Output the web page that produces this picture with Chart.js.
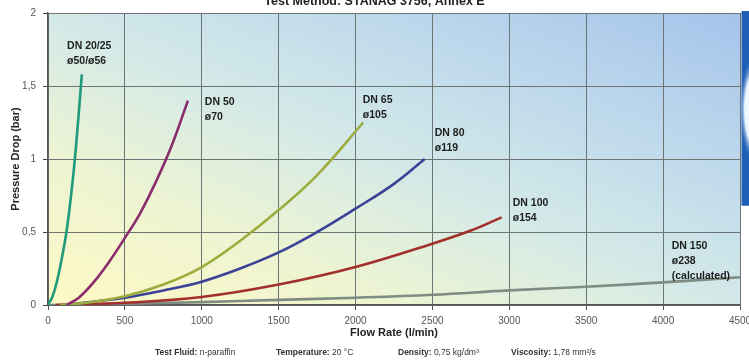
<!DOCTYPE html>
<html><head><meta charset="utf-8">
<script src="https://cdn.jsdelivr.net/npm/chart.js@4.4.1/dist/chart.umd.min.js"></script>
<style>
html,body{margin:0;padding:0;background:#fff;overflow:hidden;width:749px;height:360px;}
#wrap{position:absolute;left:0;top:-6px;width:749px;height:366px;}
</style></head><body>
<div id="wrap"><canvas id="c"></canvas></div>
<script>
// ---- data ----
const xTicks = [0, 500, 1000, 1500, 2000, 2500, 3000, 3500, 4000, 4500];
const yTicks = [0, 0.5, 1, 1.5, 2];
const seriesNames = ['DN 20/25', 'DN 50', 'DN 65', 'DN 80', 'DN 100', 'DN 150'];
const flowDN20 = [0, 30, 60, 90, 120, 150, 180, 220];
const dropDN20 = [0, 0.06, 0.17, 0.32, 0.50, 0.75, 1.06, 1.58];
const flowDN50 = [120, 200, 300, 400, 500, 600, 700, 800, 910];
const dropDN50 = [0, 0.05, 0.16, 0.30, 0.46, 0.63, 0.84, 1.08, 1.40];
const flowDN65 = [80, 250, 500, 750, 1000, 1250, 1500, 1750, 2050];
const dropDN65 = [0, 0.015, 0.06, 0.14, 0.26, 0.44, 0.65, 0.89, 1.25];
const flowDN80 = [100, 500, 750, 1000, 1250, 1500, 1750, 2000, 2250, 2450];
const dropDN80 = [0, 0.05, 0.10, 0.16, 0.25, 0.36, 0.50, 0.66, 0.83, 1.00];
const flowDN100 = [50, 500, 1000, 1500, 2000, 2500, 2750, 2950];
const dropDN100 = [0, 0.015, 0.055, 0.14, 0.26, 0.42, 0.51, 0.60];
const flowDN150 = [0, 500, 1000, 1500, 2000, 2500, 3000, 3500, 4000, 4500];
const dropDN150 = [0, 0.008, 0.02, 0.035, 0.05, 0.07, 0.10, 0.125, 0.155, 0.19];
const curveNotes = [
  ['DN 20/25', 'ø50/ø56'],
  ['DN 50', 'ø70'],
  ['DN 65', 'ø105'],
  ['DN 80', 'ø119'],
  ['DN 100', 'ø154'],
  ['DN 150', 'ø238', '(calculated)']
];
// anchor of each note in data units (flow, pressure)
const noteFlow = [124, 1020, 2047, 2515, 3022, 4056];
const noteDrop = [1.77, 1.39, 1.40, 1.18, 0.70, 0.40];
const titleText = 'Test Method: STANAG 3756, Annex E';
const xTitle = 'Flow Rate (l/min)';
const yTitle = 'Pressure Drop (bar)';
const footParts = [
  ['Test Fluid:', ' n-paraffin'],
  ['Temperature:', ' 20 °C'],
  ['Density:', ' 0,75 kg/dm³'],
  ['Viscosity:', ' 1,78 mm²/s']
];
const footStart = [155, 276, 398, 511];

const colors = ['#1f9a7a', '#8a2c6e', '#9cad3e', '#3b4397', '#a12f2b', '#7f8c83'];
const flows = [flowDN20, flowDN50, flowDN65, flowDN80, flowDN100, flowDN150];
const drops = [dropDN20, dropDN50, dropDN65, dropDN80, dropDN100, dropDN150];

const FONT = '"Liberation Sans", Arial, sans-serif';

const datasets = seriesNames.map((n, i) => ({
  label: n,
  data: flows[i].map((q, k) => ({x: q, y: drops[i][k]})),
  borderColor: colors[i],
  borderWidth: 2.6,
  pointRadius: 0,
  fill: false,
  tension: 0.4
}));

const bgPlugin = {
  id: 'bg',
  beforeDraw(chart) {
    const {ctx, chartArea: a} = chart;
    ctx.save();
    ctx.translate(a.left, a.top);
    ctx.scale(a.right - a.left, a.bottom - a.top);
    const g = ctx.createLinearGradient(0, 1, 1, 0);
    g.addColorStop(0, '#fdf9c4');
    g.addColorStop(0.25, '#eef4d2');
    g.addColorStop(0.5, '#d3e9e8');
    g.addColorStop(0.75, '#bcd7ec');
    g.addColorStop(1, '#a4c3ea');
    ctx.fillStyle = g;
    ctx.fillRect(0, 0, 1, 1);
    ctx.restore();
  }
};

const deco = {
  id: 'deco',
  afterDraw(chart) {
    const {ctx, chartArea: a, width, height} = chart;
    ctx.save();
    // cropped blue panel at right edge
    const x0 = a.right + 1.5, y0 = a.top - 2, y1 = a.top + (a.bottom - a.top) * 0.66;
    ctx.fillStyle = '#1f5fb5';
    ctx.fillRect(x0, y0, width - x0, y1 - y0);
    const cy = a.top + (a.bottom - a.top) * 0.33;
    const rg = ctx.createRadialGradient(width + 6, cy, 2, width + 6, cy, 16);
    rg.addColorStop(0, '#ffffff');
    rg.addColorStop(0.6, '#e8f6ff');
    rg.addColorStop(1, 'rgba(31,95,181,0)');
    ctx.save();
    ctx.translate(width + 6, cy);
    ctx.scale(1, 3.4);
    ctx.translate(-(width + 6), -cy);
    ctx.fillStyle = rg;
    ctx.beginPath();
    ctx.arc(width + 6, cy, 16, 0, Math.PI * 2);
    ctx.fill();
    ctx.restore();
    // footnote
    ctx.textBaseline = 'middle';
    const bold = 'bold 8.5px ' + FONT, reg = '8.5px ' + FONT;
    const y = height - 7;
    ctx.fillStyle = '#333';
    footParts.forEach((p, i) => {
      let x = footStart[i];
      ctx.font = bold; ctx.fillText(p[0], x, y); x += ctx.measureText(p[0]).width;
      ctx.font = reg; ctx.fillText(p[1], x, y);
    });
    ctx.restore();
  },
  afterDatasetsDraw(chart) {
    const {ctx, scales: {x, y}} = chart;
    ctx.save();
    ctx.font = 'bold 10.5px ' + FONT;
    ctx.fillStyle = '#1e1e1e';
    ctx.textBaseline = 'middle';
    ctx.textAlign = 'left';
    curveNotes.forEach((lines, i) => {
      const px = x.getPixelForValue(noteFlow[i]);
      const py = y.getPixelForValue(noteDrop[i]);
      lines.forEach((t, k) => ctx.fillText(t, px, py + k * 15));
    });
    ctx.restore();
  }
};

new Chart(document.getElementById('c'), {
  type: 'line',
  data: {datasets},
  plugins: [bgPlugin, deco],
  options: {
    responsive: true,
    maintainAspectRatio: false,
    animation: false,
    events: [],
    layout: {padding: {left: 0, right: 0, top: 0, bottom: 12}},
    plugins: {
      legend: {display: false},
      tooltip: {enabled: false},
      title: {
        display: true, text: titleText, color: '#222',
        font: {family: FONT, size: 12.5, weight: 'bold'},
        padding: {top: 0, bottom: 4}
      }
    },
    scales: {
      x: {
        type: 'linear', min: xTicks[0], max: xTicks[xTicks.length - 1],
        afterBuildTicks(s) { s.ticks = xTicks.map(v => ({value: v})); },
        afterFit(s) { s.height = 43; s.paddingRight = 9; s.paddingLeft = 0; },
        ticks: {color: '#555', font: {family: FONT, size: 10}, padding: 5, maxRotation: 0, autoSkip: false,
          callback: v => String(v)},
        grid: {color: '#6d7474', lineWidth: 1, tickLength: 5, tickColor: '#555'},
        border: {color: '#555', width: 1.5},
        title: {display: true, text: xTitle, color: '#222', font: {family: FONT, size: 11, weight: 'bold'}, padding: {top: 0, bottom: 8.4}}
      },
      y: {
        type: 'linear', min: yTicks[0], max: yTicks[yTicks.length - 1],
        afterBuildTicks(s) { s.ticks = yTicks.map(v => ({value: v})); },
        afterFit(s) { s.width = 48; },
        ticks: {color: '#555', font: {family: FONT, size: 10}, padding: 7,
          callback: v => String(v).replace('.', ',')},
        grid: {color: '#6d7474', lineWidth: 1, tickLength: 5, tickColor: '#444'},
        border: {color: '#555', width: 1.5},
        title: {display: true, text: yTitle, color: '#222', font: {family: FONT, size: 11, weight: 'bold'}, padding: {top: 9.4, bottom: 1}}
      }
    }
  }
});
</script>
</body></html>
